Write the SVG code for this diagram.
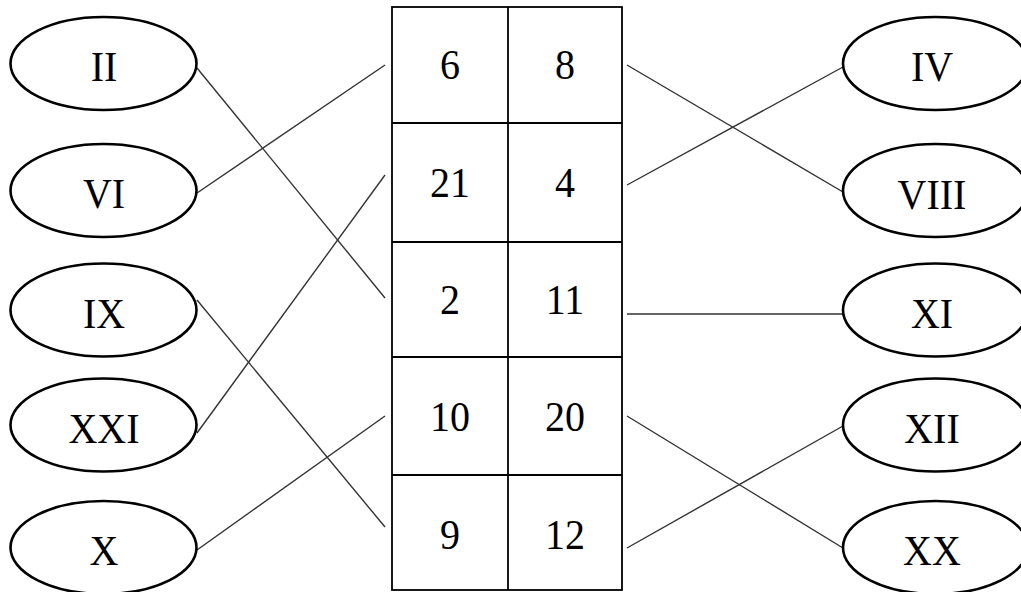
<svg xmlns="http://www.w3.org/2000/svg" width="1021" height="592" viewBox="0 0 1021 592">
<style>
.n ellipse{fill:#fff;stroke:#000;stroke-width:2.6}
.t{font-family:'Liberation Serif','DejaVu Serif',serif;font-size:40px;fill:#000;text-anchor:middle}
.c line{stroke:#333;stroke-width:1.4}
.g{fill:none;stroke:#000;stroke-width:1.8}
</style>
<rect width="1021" height="592" fill="#fff"/>
<g id="connectors" class="c">
<line x1="197" y1="68" x2="385" y2="298"/>
<line x1="197" y1="193" x2="385" y2="65"/>
<line x1="197" y1="300" x2="385" y2="527"/>
<line x1="197" y1="433" x2="385" y2="175"/>
<line x1="197" y1="550" x2="385" y2="416"/>
<line x1="627" y1="65" x2="843" y2="192"/>
<line x1="627" y1="185" x2="843" y2="67"/>
<line x1="627" y1="314" x2="843" y2="314"/>
<line x1="627" y1="416" x2="843" y2="548"/>
<line x1="627" y1="548" x2="843" y2="426"/>
</g>
<g id="table" font-family="Liberation Serif, DejaVu Serif, serif">
<rect class="g" x="392" y="7" width="230" height="583"/>
<line class="g" x1="508" y1="7" x2="508" y2="590"/>
<line class="g" x1="392" y1="123" x2="622" y2="123"/>
<line class="g" x1="392" y1="242" x2="622" y2="242"/>
<line class="g" x1="392" y1="357" x2="622" y2="357"/>
<line class="g" x1="392" y1="475" x2="622" y2="475"/>
<text class="t" transform="translate(450,79) scale(1,1.08)">6</text>
<text class="t" transform="translate(565,79) scale(1,1.08)">8</text>
<text class="t" transform="translate(450,197) scale(1,1.08)">21</text>
<text class="t" transform="translate(565,197) scale(1,1.08)">4</text>
<text class="t" transform="translate(450,314) scale(1,1.08)">2</text>
<text class="t" transform="translate(565,314) scale(1,1.08)">11</text>
<text class="t" transform="translate(450,431) scale(1,1.08)">10</text>
<text class="t" transform="translate(565,431) scale(1,1.08)">20</text>
<text class="t" transform="translate(450,549) scale(1,1.08)">9</text>
<text class="t" transform="translate(565,549) scale(1,1.08)">12</text>
</g>
<g id="n-II" class="n"><ellipse cx="103.5" cy="63.5" rx="93" ry="46.5"/><text class="t" transform="translate(104,81) scale(1,1.08)">II</text></g>
<g id="n-VI" class="n"><ellipse cx="103.5" cy="190.5" rx="93" ry="46.5"/><text class="t" transform="translate(104,208) scale(1,1.08)">VI</text></g>
<g id="n-IX" class="n"><ellipse cx="103.5" cy="310" rx="93" ry="46.5"/><text class="t" transform="translate(104,328) scale(1,1.08)">IX</text></g>
<g id="n-XXI" class="n"><ellipse cx="103.5" cy="425" rx="93" ry="46.5"/><text class="t" transform="translate(104,443) scale(1,1.08)">XXI</text></g>
<g id="n-X" class="n"><ellipse cx="103.5" cy="547.5" rx="93" ry="46.5"/><text class="t" transform="translate(104,565) scale(1,1.08)">X</text></g>
<g id="n-IV" class="n"><ellipse cx="935.5" cy="63.5" rx="92.5" ry="46.5"/><text class="t" transform="translate(932,81) scale(1,1.08)">IV</text></g>
<g id="n-VIII" class="n"><ellipse cx="935.5" cy="190.5" rx="92.5" ry="46.5"/><text class="t" transform="translate(932,209) scale(1,1.08)">VIII</text></g>
<g id="n-XI" class="n"><ellipse cx="935.5" cy="310" rx="92.5" ry="46.5"/><text class="t" transform="translate(932,328) scale(1,1.08)">XI</text></g>
<g id="n-XII" class="n"><ellipse cx="935.5" cy="425" rx="92.5" ry="46.5"/><text class="t" transform="translate(932,443) scale(1,1.08)">XII</text></g>
<g id="n-XX" class="n"><ellipse cx="935.5" cy="547.5" rx="92.5" ry="46.5"/><text class="t" transform="translate(932,565) scale(1,1.08)">XX</text></g>
</svg>
